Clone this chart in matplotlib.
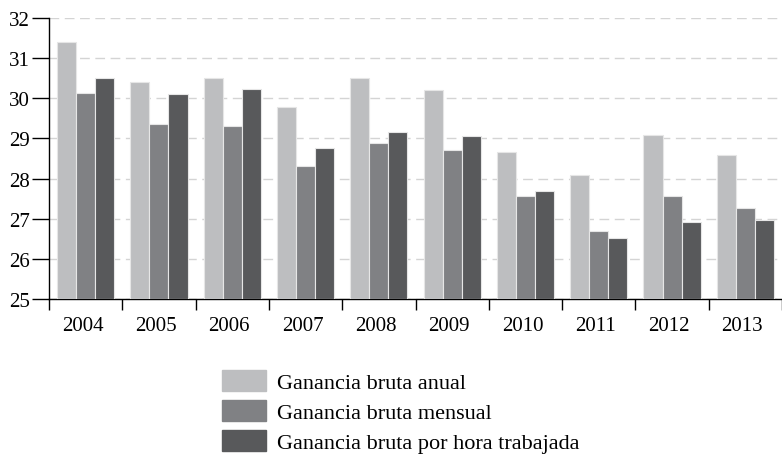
import matplotlib
matplotlib.use("Agg")
import matplotlib.pyplot as plt
import matplotlib.patches as mpatches
import numpy as np

# data
years = ["2004", "2005", "2006", "2007", "2008", "2009", "2010", "2011", "2012", "2013"]
anual = [31.40, 30.41, 30.50, 29.78, 30.50, 30.20, 28.67, 28.08, 29.08, 28.58]
mensual = [30.14, 29.35, 29.30, 28.31, 28.88, 28.70, 27.56, 26.69, 27.57, 27.27]
por_hora = [30.50, 30.10, 30.23, 28.76, 29.16, 29.07, 27.70, 26.51, 26.92, 26.97]
labels = ["Ganancia bruta anual", "Ganancia bruta mensual", "Ganancia bruta por hora trabajada"]
colores = ["#bdbec0", "#808184", "#58595b"]

plt.rcParams["font.family"] = ["Liberation Serif", "DejaVu Serif"]

fig = plt.figure(figsize=(7.82, 4.60), dpi=100)
ax = fig.add_axes([49 / 782, 1 - 300 / 460, 1 - 49 / 782, (300 - 19) / 460])

x = np.arange(len(years))
w = 0.26
for i, (vals, c) in enumerate(zip([anual, mensual, por_hora], colores)):
    ax.bar(x + (i - 1) * w, np.array(vals) - 25, bottom=25, width=w, color=c,
           edgecolor="#e6e6e6", linewidth=0.8, zorder=3)

ax.set_ylim(25, 32)
ax.set_xlim(-0.5, 9.5)
ax.set_yticks(range(25, 33))
ax.yaxis.grid(True, linestyle=(0, (7, 4)), color="#d4d4d4", linewidth=1.0, zorder=0)
ax.set_axisbelow(True)

# category labels centered, ticks on the boundaries
ax.set_xticks(np.arange(-0.5, 10, 1))
ax.set_xticklabels([])
ax.set_xticks(x - 0.04, minor=True)
ax.set_xticklabels(years, minor=True)
ax.tick_params(axis="x", which="minor", length=0, labelsize=15, pad=12)
ax.tick_params(axis="x", which="major", length=8, width=1, direction="out")
ax.tick_params(axis="y", length=12, width=1, labelsize=15, pad=2)

for s in ["top", "right"]:
    ax.spines[s].set_visible(False)
ax.spines["left"].set_linewidth(1.0)
ax.spines["bottom"].set_linewidth(1.0)

handles = [mpatches.Patch(color=c, label=l) for c, l in zip(colores, labels)]
fig.legend(handles=handles, loc="upper left", bbox_to_anchor=(213 / 782, 1 - 362 / 460),
           frameon=False, fontsize=16, handlelength=2.0, handleheight=1.05,
           labelspacing=0.32, handletextpad=0.5, borderaxespad=0)

fig.savefig("out.png", dpi=100)
